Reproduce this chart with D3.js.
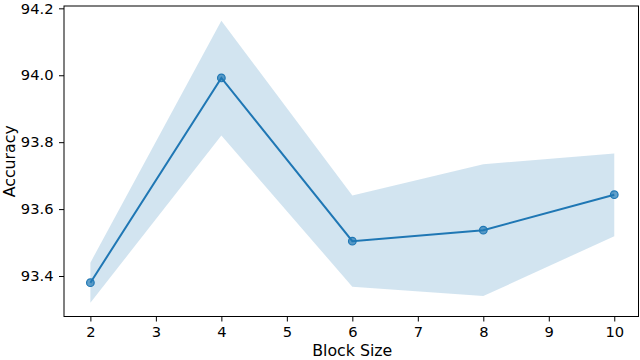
<!DOCTYPE html>
<html><head><meta charset="utf-8">
<script src="https://cdn.jsdelivr.net/npm/d3@7/dist/d3.min.js"></script>
<style>body{margin:0;background:#fff}svg{display:block}text{font-family:"DejaVu Sans",sans-serif}</style>
</head><body><svg id="c" width="640" height="360"></svg>
<script>
const blockSizes = [2, 4, 6, 8, 10];
const meanAcc = [93.380, 93.992, 93.504, 93.537, 93.643];
const upperAcc = [93.440, 94.163, 93.641, 93.734, 93.766];
const lowerAcc = [93.320, 93.820, 93.368, 93.340, 93.519];
const xTicks = [2, 3, 4, 5, 6, 7, 8, 9, 10];
const yTicks = [93.4, 93.6, 93.8, 94.0, 94.2];

const svg = d3.select("#c");
const L = 64, R = 638.5, T = 6, B = 316.5;
const x = d3.scaleLinear().domain([1.597, 10.37]).range([L, R]);
const y = d3.scaleLinear().domain([93.279, 94.207]).range([B, T]);
const data = blockSizes.map((b, i) => ({b, m: meanAcc[i], u: upperAcc[i], l: lowerAcc[i]}));
const col = "#1f77b4";

svg.append("path").datum(data)
  .attr("d", d3.area().x(d => x(d.b)).y0(d => y(d.l)).y1(d => y(d.u)))
  .attr("fill", col).attr("fill-opacity", 0.2).attr("stroke", "none");

svg.append("path").datum(data)
  .attr("d", d3.line().x(d => x(d.b)).y(d => y(d.m)))
  .attr("fill", "none").attr("stroke", col).attr("stroke-width", 2);

svg.selectAll("circle.m").data(data).enter().append("circle")
  .attr("cx", d => x(d.b)).attr("cy", d => y(d.m)).attr("r", 3.8)
  .attr("fill", col).attr("fill-opacity", 0.7).attr("stroke", col).attr("stroke-width", 1.2);

const xa = svg.append("g").attr("transform", `translate(0,${B})`)
  .call(d3.axisBottom(x).tickValues(xTicks).tickFormat(d3.format("d")).tickSize(5).tickPadding(5));
const ya = svg.append("g").attr("transform", `translate(${L},0)`)
  .call(d3.axisLeft(y).tickValues(yTicks).tickFormat(d3.format(".1f")).tickSize(5).tickPadding(5.5));
[xa, ya].forEach(a => {
  a.select(".domain").remove();
  a.selectAll("line").attr("stroke", "#000").attr("stroke-width", 1);
  a.selectAll("text").attr("font-size", 14.7).attr("fill", "#000").attr("font-family", "DejaVu Sans");
});
xa.selectAll("text").attr("dy", "0.71em");

svg.append("rect").attr("x", L).attr("y", T).attr("width", R - L).attr("height", B - T)
  .attr("fill", "none").attr("stroke", "#000").attr("stroke-width", 1);

svg.append("text").attr("x", (L + R) / 2 + 1).attr("y", 356).attr("text-anchor", "middle")
  .attr("font-size", 15.8).text("Block Size");
svg.append("text").attr("transform", `translate(14.5,${(T + B) / 2}) rotate(-90)`)
  .attr("text-anchor", "middle").attr("font-size", 15.8).text("Accuracy");
</script></body></html>
